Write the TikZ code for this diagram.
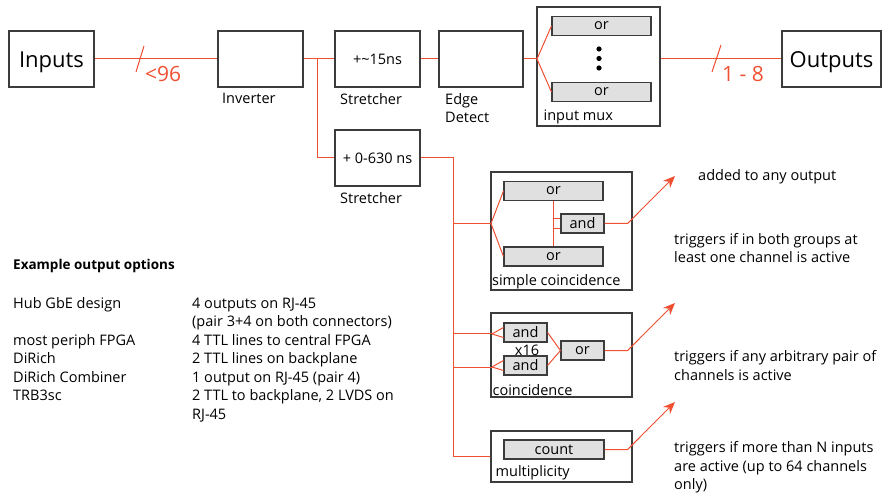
\documentclass[tikz,border=0pt]{standalone}
\usepackage{fontspec}
\setmainfont{Open Sans}
\usetikzlibrary{arrows.meta}
\definecolor{sigred}{RGB}{240,80,50}
\definecolor{boxgray}{RGB}{60,60,60}
\definecolor{gategray}{RGB}{224,224,224}

\begin{document}
\begin{tikzpicture}[x=1pt, y=-1pt,
  font=\fontsize{14.5}{18.5}\selectfont,
  blocknode/.style={shape=rectangle, draw=boxgray, line width=1.1pt, minimum width=85pt, minimum height=56pt, inner sep=0},
  bignode/.style={blocknode, font=\fontsize{22}{26}\selectfont, text height=18pt, text depth=0pt},
  gatenode/.style={shape=rectangle, draw=boxgray, line width=1.1pt, fill=gategray, minimum height=19pt, inner sep=0},
  groupnode/.style={shape=rectangle, draw=boxgray, line width=1.1pt, inner sep=0},
  captext/.style={anchor=north west, inner sep=0, align=left},
  notetext/.style={anchor=west, inner sep=0, align=left},
  busred/.style={text=sigred, font=\fontsize{21}{24}\selectfont, anchor=west, inner sep=0},
  sig/.style={draw=sigred, line width=1pt},
  trig/.style={sig, -{Stealth[length=12pt,width=10pt]}},
]
\useasboundingbox (0,0) rectangle (895,497);

%MAIN CHAIN
\node[bignode] (inputs) at (51.5,59) {Inputs};
\node[blocknode] (inverter) at (260.5,59) {};
\node[blocknode] (str1) at (377.5,59) {+\textasciitilde15ns};
\node[blocknode] (str2) at (377.5,158) {+ 0-630 ns};
\node[blocknode, minimum width=84pt] (edge) at (481,59) {};
\node[bignode, minimum width=99pt] (outputs) at (831.5,59) {Outputs};

\node[captext] (invcap) at (222,93) {Inverter};
\node[captext] (str1cap) at (340,93) {Stretcher};
\node[captext] (edgecap) at (445,93) {Edge\\Detect};
\node[captext] (str2cap) at (340,192) {Stretcher};

%INPUT MUX
\node[groupnode, minimum width=123pt, minimum height=119pt] (mux) at (598.5,66.5) {};
\node[gatenode, minimum width=99pt] (muxor1) at (601.5,26) {or};
\node[gatenode, minimum width=99pt] (muxor2) at (601.5,92) {or};
\foreach \y in {49,58.5,68} \fill (599,\y) circle (2.6);
\node[anchor=south west, inner sep=2pt] (muxcap) at ([xshift=5]mux.south west) {input mux};

\draw[sig] (inputs) -- (inverter);
\draw[sig] (inverter.east) -- (str1.west);
\coordinate (split) at (317,59);
\draw[sig] (split) |- (str2.west);
\draw[sig] (str1.east) -- (edge.west);
\coordinate (muxin) at (537,59);
\draw[sig] (edge.east) -- (muxin);
\draw[sig] (muxin) -- (muxor1.west);
\draw[sig] (muxin) -- (muxor2.west);
\draw[sig] (mux.east |- outputs.west) -- (outputs.west);

%bus widths
\coordinate (cut1) at (140,59);
\draw[sig] ([shift={(4,-13)}]cut1) -- ([shift={(-4,13)}]cut1);
\node[busred] (bus1) at (145,74) {<96};
\coordinate (cut2) at (716.5,58.5);
\draw[sig] ([shift={(4.5,-13.5)}]cut2) -- ([shift={(-4.5,13.5)}]cut2);
\node[busred] (bus2) at (722,74) {1 - 8};

%SIMPLE COINCIDENCE
\node[groupnode, minimum width=141pt, minimum height=118pt] (simple) at (561.5,231) {};
\node[gatenode, minimum width=99pt] (sor1) at (553.5,191) {or};
\node[gatenode, minimum width=99pt] (sor2) at (553.5,256.5) {or};
\node[gatenode, minimum width=43pt] (sand) at (582.5,223.5) {and};
\node[anchor=south west, inner sep=1.5pt] (simplecap) at (simple.south west) {simple coincidence};

%COINCIDENCE
\node[groupnode, minimum width=141pt, minimum height=84pt] (coinc) at (561.5,355) {};
\node[gatenode, minimum width=43pt] (cand1) at (525.5,332.5) {and};
\node[gatenode, minimum width=43pt] (cand2) at (525.5,365.5) {and};
\node[gatenode, minimum width=43pt] (cor) at (582.5,350.5) {or};
\node[inner sep=0] (times) at (527,350) {x16};
\node[anchor=south west, inner sep=2pt] (coinccap) at (coinc.south west) {coincidence};

%MULTIPLICITY
\node[groupnode, minimum width=141pt, minimum height=51pt] (mult) at (561.5,456.5) {};
\node[gatenode, minimum width=100pt] (count) at (554,449.5) {count};
\node[anchor=south west, inner sep=2pt] (multcap) at ([xshift=3]mult.south west) {multiplicity};

%trigger trunk
\coordinate (trunk) at (453,158);
\draw[sig] (str2.east) -| (trunk |- mult.west) -- (mult.west);

\coordinate (sin) at (491,223.5);
\draw[sig] (trunk |- sin) -- (sin);
\draw[sig] (sin) -- (sor1.west);
\draw[sig] (sin) -- (sor2.west);
\draw[sig] (sor1.south) |- ([yshift=-5]sand.west);
\draw[sig] (sor2.north) |- ([yshift=5]sand.west);

\coordinate (cin1) at (492,334);
\coordinate (cin2) at (492,367);
\draw[sig] (trunk |- cin1) -- (cin1);
\draw[sig] (trunk |- cin2) -- (cin2);
\draw[sig] (cin1) -- ([yshift=-5]cand1.west);
\draw[sig] (cin1) -- ([yshift=5]cand1.west);
\draw[sig] (cin2) -- ([yshift=-5]cand2.west);
\draw[sig] (cin2) -- ([yshift=5]cand2.west);
\draw[sig] (cand1.east) -- (cor.west);
\draw[sig] (cand2.east) -- (cor.west);

%TRIGGER OUTPUTS
\coordinate (tip1) at (675,176);
\coordinate (tip2) at (675,303);
\coordinate (tip3) at (675,402);
\draw[trig] (sand.east) -- ++(23,0) -- (tip1);
\draw[trig] (cor.east) -- ++(23,0) -- (tip2);
\draw[trig] (count.east) -- ++(23,0) -- (tip3);

\node[notetext] (note1) at (698,177) {added to any output};
\node[notetext] (note2) at (674,248) {triggers if in both groups at\\least one channel is active};
\node[notetext] (note3) at (674,365.5) {triggers if any arbitrary pair of\\channels is active};
\node[notetext] (note4) at (674,467.5) {triggers if more than N inputs\\are active (up to 64 channels\\only)};

%%LEGEND
\node[notetext, font={\fontsize{13.5}{16}\selectfont\bfseries}] (title) at (13,266) {Example output options};
\node[anchor=north west, inner sep=0] (options) at (13,295) {%
  \begin{tabular}{@{}p{179pt}@{}l@{}}
    Hub GbE design & 4 outputs on RJ-45\\
                   & (pair 3+4 on both connectors)\\
    most periph FPGA & 4 TTL lines to central FPGA\\
    DiRich & 2 TTL lines on backplane\\
    DiRich Combiner & 1 output on RJ-45 (pair 4)\\
    TRB3sc & 2 TTL to backplane, 2 LVDS on\\
           & RJ-45
  \end{tabular}};

\end{tikzpicture}
\end{document}
